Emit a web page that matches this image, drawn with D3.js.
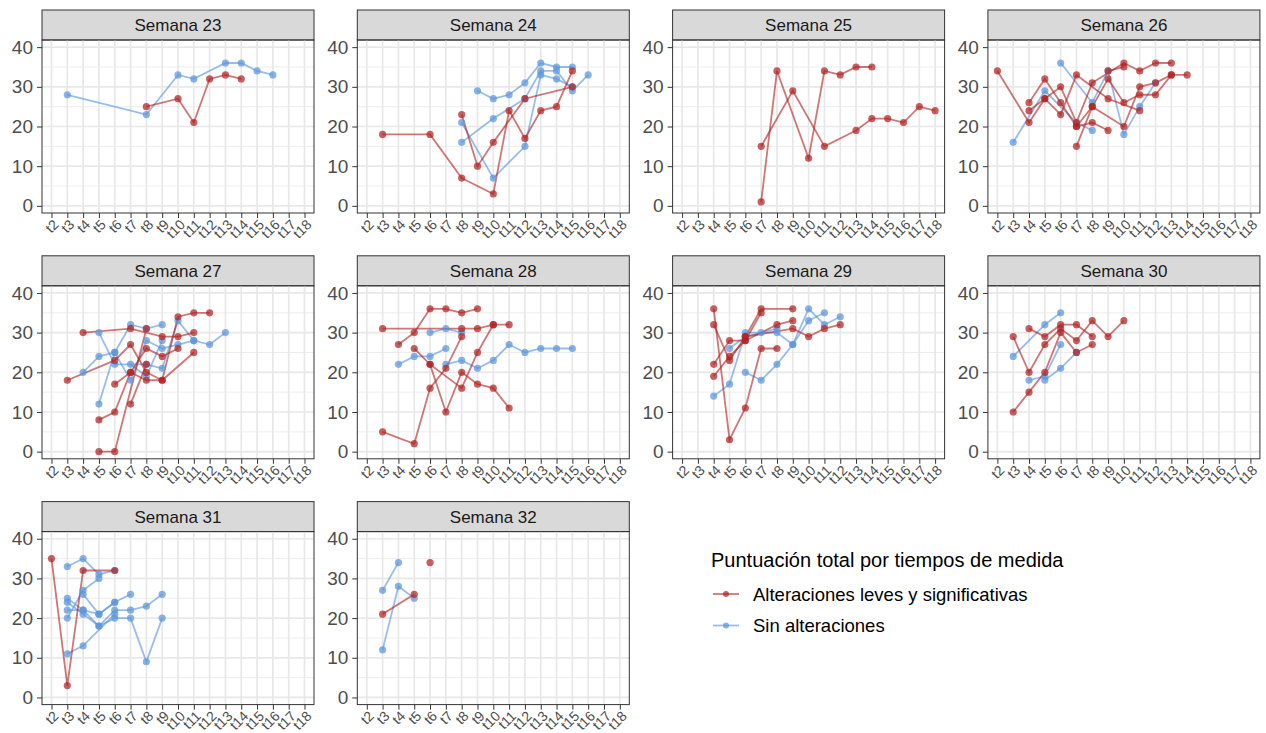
<!DOCTYPE html>
<html>
<head>
<meta charset="utf-8">
<script src="https://cdn.jsdelivr.net/npm/d3@7"></script>
<style>
  body { margin: 0; background: #fff; }
  text { font-family: "Liberation Sans", Arial, Helvetica, sans-serif; }
</style>
</head>
<body>
<div id="chart"></div>
<script>
const tiempos = d3.range(2, 19).map(i => 't' + i)
const semanas = ['Semana 23', 'Semana 24', 'Semana 25', 'Semana 26', 'Semana 27',
  'Semana 28', 'Semana 29', 'Semana 30', 'Semana 31', 'Semana 32']
const grupos = ['Alteraciones leves y significativas', 'Sin alteraciones']
const colores = ['#b22222', '#5b95dd']
const yTicks = [0, 10, 20, 30, 40]
const yMinor = [5, 15, 25, 35]

// one entry per patient: [grupo, tiempos de medida, puntuaciones]
// grupo 0 = alteraciones, 1 = sin alteraciones
const semana23 = [
  [1, [3, 8, 10, 11, 13, 14, 15, 16], [28, 23, 33, 32, 36, 36, 34, 33]],
  [0, [8, 10, 11, 12, 13, 14], [25, 27, 21, 32, 33, 32]]
]
const semana24 = [
  [1, [9, 10, 11, 12, 13, 14, 15], [29, 27, 28, 31, 36, 35, 35]],
  [1, [8, 10, 12, 13, 14, 15], [21, 7, 15, 33, 32, 30]],
  [1, [8, 10, 12, 13, 14, 15, 16], [16, 22, 27, 34, 34, 29, 33]],
  [0, [3, 6, 8, 10, 11, 12, 13, 14, 15], [18, 18, 7, 3, 24, 17, 24, 25, 34]],
  [0, [8, 9, 10, 12, 15], [23, 10, 16, 27, 30]]
]
const semana25 = [
  [0, [7, 8, 10, 11, 12, 13, 14], [1, 34, 12, 34, 33, 35, 35]],
  [0, [7, 9, 11, 13, 14, 15, 16, 17, 18], [15, 29, 15, 19, 22, 22, 21, 25, 24]]
]
const semana26 = [
  [1, [3, 5, 7, 8], [16, 29, 21, 19]],
  [1, [6, 8, 9, 10, 11, 12], [36, 26, 34, 18, 25, 31]],
  [0, [2, 4, 5, 6, 7, 9, 11], [34, 21, 27, 23, 33, 27, 24]],
  [0, [4, 5, 6, 7, 8, 9], [26, 32, 26, 20, 21, 19]],
  [0, [4, 5, 6, 7, 8, 10, 11, 12, 13], [24, 27, 30, 21, 31, 36, 34, 36, 36]],
  [0, [7, 8, 9, 10, 11, 12, 13, 14], [15, 25, 32, 26, 28, 28, 33, 33]],
  [0, [7, 8, 10, 11, 12, 13], [20, 25, 20, 30, 31, 33]],
  [0, [9, 10], [34, 35]]
]
const semana27 = [
  [1, [4, 5, 6, 7, 8, 9], [20, 24, 25, 32, 31, 32]],
  [1, [5, 6, 8, 9, 10, 11, 12, 13], [30, 22, 22, 21, 33, 28, 27, 30]],
  [1, [5, 6, 7, 8, 9, 10, 11], [12, 25, 18, 28, 26, 27, 28]],
  [1, [7, 8, 9], [22, 19, 28]],
  [0, [3, 6, 7, 8, 9, 10, 11, 12], [18, 23, 27, 20, 18, 34, 35, 35]],
  [0, [4, 7, 9, 10, 11], [30, 31, 29, 29, 30]],
  [0, [5, 6, 7, 8, 9, 10], [8, 10, 20, 26, 24, 26]],
  [0, [5, 6, 8], [0, 0, 31]],
  [0, [6, 7, 8, 9, 11], [17, 20, 18, 18, 25]],
  [0, [7, 8], [12, 22]]
]
const semana28 = [
  [1, [4, 5, 6, 7], [22, 24, 24, 26]],
  [1, [6, 7, 8], [30, 31, 30]],
  [1, [7, 8, 9, 10, 11, 12, 13, 14, 15], [22, 23, 21, 23, 27, 25, 26, 26, 26]],
  [0, [3, 8, 9, 10, 11], [31, 31, 31, 32, 32]],
  [0, [4, 5, 6, 7, 8, 9], [27, 30, 36, 36, 35, 36]],
  [0, [3, 5, 6, 7, 8], [5, 2, 16, 21, 29]],
  [0, [5, 6, 7, 8, 9, 10, 11], [26, 22, 10, 20, 17, 16, 11]],
  [0, [6, 8, 9, 10], [22, 16, 25, 32]]
]
const semana29 = [
  [1, [4, 5, 6, 7, 8, 9, 10, 11], [14, 17, 30, 30, 30, 27, 33, 35]],
  [1, [5, 6, 8], [26, 29, 31]],
  [1, [6, 7, 8, 9, 10, 11, 12], [20, 18, 22, 27, 36, 32, 34]],
  [0, [4, 5, 6, 7, 8], [36, 3, 11, 26, 26]],
  [0, [4, 5, 6, 7, 9], [32, 23, 29, 36, 36]],
  [0, [4, 5, 6, 7], [22, 28, 28, 35]],
  [0, [4, 5, 6, 8, 9], [19, 24, 28, 32, 33]],
  [0, [6, 9, 10, 11, 12], [29, 31, 29, 31, 32]]
]
const semana30 = [
  [1, [3, 5, 6], [24, 32, 35]],
  [1, [4, 5, 6], [18, 19, 27]],
  [1, [5, 6, 7], [18, 21, 25]],
  [0, [3, 4, 5, 6, 7, 8, 9, 10], [29, 20, 27, 31, 28, 33, 29, 33]],
  [0, [3, 4, 5, 6, 7, 8], [10, 15, 20, 30, 25, 27]],
  [0, [4, 5, 6, 7, 8], [31, 29, 32, 32, 29]]
]
const semana31 = [
  [1, [3, 4, 5, 6], [33, 35, 31, 32]],
  [1, [3, 4, 5, 6, 7], [25, 22, 21, 24, 26]],
  [1, [3, 4, 5, 6, 7, 8, 9], [24, 21, 18, 22, 22, 23, 26]],
  [1, [3, 4, 5, 6, 7, 8, 9], [22, 22, 18, 20, 20, 9, 20]],
  [1, [3, 4, 5], [20, 27, 30]],
  [1, [3, 4, 6], [11, 13, 21]],
  [1, [4, 5, 6], [26, 21, 24]],
  [0, [2, 3, 4, 6], [35, 3, 32, 32]]
]
const semana32 = [
  [1, [3, 4], [27, 34]],
  [1, [3, 4, 5], [12, 28, 25]],
  [0, [3, 5], [21, 26]],
  [0, [6], [34]]
]
const datos = [semana23, semana24, semana25, semana26, semana27,
  semana28, semana29, semana30, semana31, semana32]

const width = 1266
const height = 733
const panel = { left: 42, top: 10, colStep: 315.3, rowStep: 245.8, w: 272, strip: 30, h: 173 }

const svg = d3.select('#chart').append('svg')
  .attr('width', width)
  .attr('height', height)

svg.append('rect').attr('width', width).attr('height', height).attr('fill', '#fff')

const x = d3.scalePoint().domain(tiempos).range([0, panel.w]).padding(0.6)
const y = d3.scaleLinear().domain([-1.8, 41.8]).range([panel.h, 0])

const line = d3.line()
  .x(d => x(d[0]))
  .y(d => y(d[1]))

semanas.forEach((semana, i) => {
  const col = i % 4
  const row = Math.floor(i / 4)
  const g = svg.append('g')
    .attr('transform', `translate(${panel.left + col * panel.colStep}, ${panel.top + row * panel.rowStep})`)

  // strip
  g.append('rect')
    .attr('width', panel.w).attr('height', panel.strip)
    .attr('fill', '#d9d9d9').attr('stroke', '#333').attr('stroke-width', 1)
  g.append('text')
    .attr('x', panel.w / 2).attr('y', panel.strip / 2)
    .attr('dy', '0.36em')
    .attr('text-anchor', 'middle')
    .attr('font-size', 17)
    .attr('fill', '#1a1a1a')
    .text(semana)

  const plot = g.append('g').attr('transform', `translate(0, ${panel.strip})`)

  // grid
  plot.selectAll('.minor').data(yMinor).enter().append('line')
    .attr('x1', 0).attr('x2', panel.w)
    .attr('y1', d => y(d)).attr('y2', d => y(d))
    .attr('stroke', '#ebebeb').attr('stroke-width', 0.9)
  plot.selectAll('.major-y').data(yTicks).enter().append('line')
    .attr('x1', 0).attr('x2', panel.w)
    .attr('y1', d => y(d)).attr('y2', d => y(d))
    .attr('stroke', '#e8e8e8').attr('stroke-width', 1.7)
  plot.selectAll('.major-x').data(tiempos).enter().append('line')
    .attr('x1', d => x(d)).attr('x2', d => x(d))
    .attr('y1', 0).attr('y2', panel.h)
    .attr('stroke', '#e8e8e8').attr('stroke-width', 1.7)

  const series = datos[i].map(([grupo, ts, vs]) => ({
    grupo,
    pts: ts.map((t, k) => ['t' + t, vs[k]])
  }))

  // lines then points
  plot.selectAll('.serie').data(series).enter().append('path')
    .attr('d', d => line(d.pts))
    .attr('fill', 'none')
    .attr('stroke', d => colores[d.grupo])
    .attr('stroke-opacity', 0.62)
    .attr('stroke-width', 1.8)

  plot.selectAll('.punto').data(series.flatMap(s => s.pts.map(p => ({ grupo: s.grupo, p }))))
    .enter().append('circle')
    .attr('cx', d => x(d.p[0]))
    .attr('cy', d => y(d.p[1]))
    .attr('r', 3.6)
    .attr('fill', d => colores[d.grupo])
    .attr('fill-opacity', 0.72)

  plot.append('rect')
    .attr('width', panel.w).attr('height', panel.h)
    .attr('fill', 'none').attr('stroke', '#333').attr('stroke-width', 1)

  // axes
  const yAxis = plot.append('g')
    .call(d3.axisLeft(y).tickValues(yTicks).tickSize(5).tickPadding(4))
  yAxis.select('.domain').remove()
  yAxis.selectAll('line').attr('stroke', '#333')
  yAxis.selectAll('text').attr('font-size', 19).attr('fill', '#4d4d4d')
    .style('font-family', '"Liberation Sans", Arial, sans-serif')

  const xAxis = plot.append('g')
    .attr('transform', `translate(0, ${panel.h})`)
    .call(d3.axisBottom(x).tickSize(5))
  xAxis.select('.domain').remove()
  xAxis.selectAll('line').attr('stroke', '#333')
  xAxis.selectAll('text')
    .attr('y', 0).attr('dy', '0.55em').attr('x', 0)
    .attr('transform', 'translate(2, 7) rotate(-45)')
    .attr('text-anchor', 'end')
    .attr('font-size', 14)
    .attr('fill', '#4d4d4d')
    .style('font-family', '"Liberation Sans", Arial, sans-serif')
})

// legend
const legend = svg.append('g').attr('transform', 'translate(711, 0)')
legend.append('text')
  .attr('x', 0).attr('y', 567)
  .attr('font-size', 20)
  .attr('fill', '#000')
  .text('Puntuación total por tiempos de medida')

grupos.forEach((grupo, i) => {
  const cy = 594 + i * 31.5
  legend.append('line')
    .attr('x1', 2).attr('x2', 28).attr('y1', cy).attr('y2', cy)
    .attr('stroke', colores[i]).attr('stroke-opacity', 0.62).attr('stroke-width', 1.8)
  legend.append('circle')
    .attr('cx', 15).attr('cy', cy).attr('r', 3)
    .attr('fill', colores[i]).attr('fill-opacity', 0.72)
  legend.append('text')
    .attr('x', 42).attr('y', cy).attr('dy', '0.36em')
    .attr('font-size', 18.5)
    .attr('fill', '#000')
    .text(grupo)
})
</script>
</body>
</html>
